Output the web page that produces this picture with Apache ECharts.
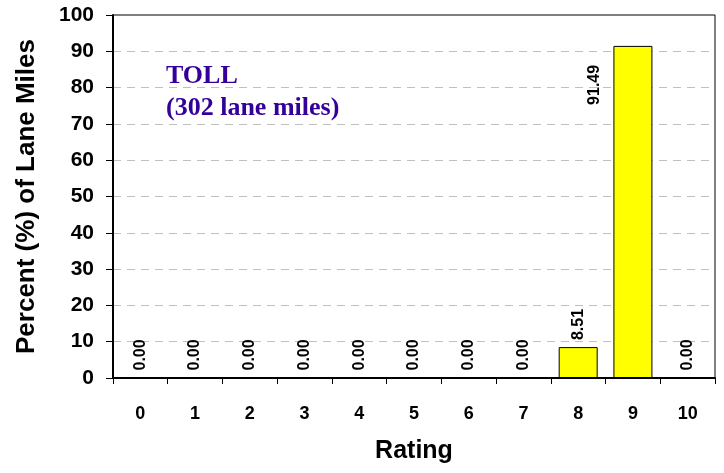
<!DOCTYPE html>
<html>
<head>
<meta charset="utf-8">
<script src="https://cdn.jsdelivr.net/npm/echarts@6/dist/echarts.min.js"></script>
<style>
	html, body { margin: 0; padding: 0; background: #fff; }
	#chart { width: 724px; height: 473px; }
</style>
</head>
<body>
<div id="chart"></div>
<script>
// ratings along the x axis
var ratings = ['0', '1', '2', '3', '4', '5', '6', '7', '8', '9', '10'];
// percent of lane miles per rating
var percents = [0, 0, 0, 0, 0, 0, 0, 0, 8.51, 91.49, 0];
var yTicks = { min: 0, max: 100, interval: 10 };

var myChart = echarts.init(document.getElementById('chart'));

// the tallest bar's label sits beside the bar, left of its top
var barData = percents.map(function(v, i) {
	if (v > 80) {
		return { value: v, label: { position: [-19, 59] } };
	}
	return v;
});

var option = {
	animation: false,
	grid: {
		left: 113,
		right: 9,
		top: 15,
		bottom: 95,
		show: true,
		borderColor: '#000',
		borderWidth: 1
	},
	xAxis: {
		type: 'category',
		data: ratings,
		name: 'Rating',
		nameLocation: 'middle',
		nameGap: 61,
		nameTextStyle: { fontFamily: 'Liberation Sans', fontWeight: 'bold', fontSize: 25, color: '#000' },
		axisLine: { lineStyle: { color: '#000', width: 2 } },
		axisTick: { show: true, length: 6, lineStyle: { color: '#000' } },
		axisLabel: { margin: 27, fontFamily: 'Liberation Sans', fontWeight: 'bold', fontSize: 18, color: '#000' }
	},
	yAxis: {
		type: 'value',
		min: yTicks.min,
		max: yTicks.max,
		interval: yTicks.interval,
		name: 'Percent (%) of Lane Miles',
		nameLocation: 'middle',
		nameGap: 73,
		nameTextStyle: { fontFamily: 'Liberation Sans', fontWeight: 'bold', fontSize: 26, color: '#000' },
		axisLine: { show: true, lineStyle: { color: '#000', width: 2 } },
		axisTick: { show: true, length: 7, lineStyle: { color: '#000' } },
		axisLabel: { margin: 19, fontFamily: 'Liberation Sans', fontWeight: 'bold', fontSize: 21, color: '#000' },
		splitLine: { showMinLine: false, showMaxLine: false, lineStyle: { color: '#c0c0c0', type: [8, 6] } }
	},
	series: [{
		type: 'bar',
		data: barData,
		barWidth: 39,
		itemStyle: { color: '#ffff00', borderColor: '#000', borderWidth: 1 },
		label: {
			show: true,
			position: 'top',
			rotate: 90,
			align: 'left',
			verticalAlign: 'middle',
			distance: 7,
			fontFamily: 'Liberation Sans',
			fontWeight: 'bold',
			fontSize: 16,
			color: '#000',
			formatter: function(p) { return p.value.toFixed(2); }
		}
	}],
	graphic: [{
		type: 'text',
		left: 166,
		top: 60,
		style: {
			text: 'TOLL\n(302 lane miles)',
			fontFamily: 'Liberation Serif',
			fontWeight: 'bold',
			fontSize: 26,
			lineHeight: 32,
			fill: '#330099'
		}
	}]
};
myChart.setOption(option);
</script>
</body>
</html>
